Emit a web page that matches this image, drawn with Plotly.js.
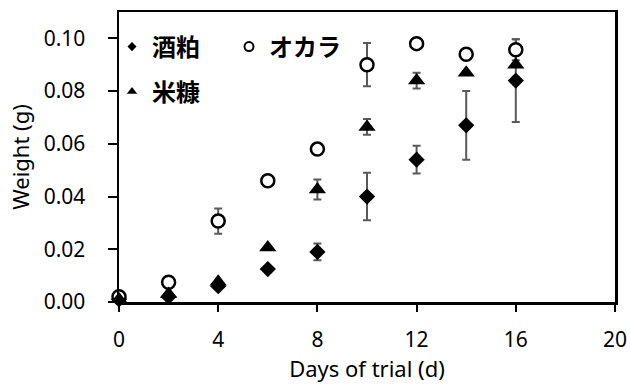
<!DOCTYPE html>
<html>
<head>
<meta charset="utf-8">
<script src="https://cdn.plot.ly/plotly-3.0.1.min.js"></script>
<style>html,body{margin:0;padding:0;background:#fff;}#chart{width:630px;height:385px;}</style>
</head>
<body>
<div id="chart"></div>
<script>
// Data
const days = [0, 2, 4, 6, 8, 10, 12, 14, 16];
const seriesNames = ["酒粕", "オカラ", "米糠"];
const sakeLees = [0.001, 0.002, 0.006, 0.0125, 0.019, 0.040, 0.054, 0.067, 0.084];
const sakeLeesErr = [0, 0, 0, 0, 0.0032, 0.009, 0.0053, 0.013, 0.0157];
const okara = [0.002, 0.0075, 0.0307, 0.046, 0.058, 0.090, 0.098, 0.094, 0.0957];
const okaraErr = [0, 0, 0.0048, 0, 0, 0.0082, 0, 0.001, 0.004];
const riceBran = [0.001, 0.003, 0.0077, 0.0207, 0.0427, 0.0664, 0.084, 0.087, 0.090];
const riceBranErr = [0, 0, 0, 0, 0.0038, 0.003, 0.003, 0, 0];
const xTicks = [0, 4, 8, 12, 16, 20];
const yTicks = [0, 0.02, 0.04, 0.06, 0.08, 0.10];

const errStyle = {type: 'data', visible: true, color: '#595959', thickness: 2, width: 4};
const latin = 'Noto Sans, sans-serif';
const cjk = 'Noto Sans CJK JP, sans-serif';

const symbols = ['diamond', 'circle', 'triangle-up'];
const fills = ['#000', '#fff', '#000'];
const sizes = [12.5, 13, 15];
const legendSizes = [7, 9, 9];
const ys = [sakeLees, okara, riceBran];
const errs = [sakeLeesErr, okaraErr, riceBranErr];
const legendIds = ['legend', 'legend2', 'legend3'];

const traces = [];
for (let i = 0; i < 3; i++) {
  traces.push({x: days, y: ys[i], name: seriesNames[i], type: 'scatter', mode: 'markers', cliponaxis: false,
    marker: {symbol: symbols[i], size: sizes[i], color: fills[i], line: {width: i === 1 ? 2.5 : 0, color: '#000'}},
    error_y: Object.assign({array: errs[i]}, errStyle), showlegend: false});
}
for (let i = 0; i < 3; i++) {
  traces.push({x: [null], y: [null], name: seriesNames[i], type: 'scatter', mode: 'markers',
    marker: {symbol: symbols[i], size: legendSizes[i], color: fills[i], line: {width: i === 1 ? 2 : 0, color: '#000'}},
    showlegend: true, legend: legendIds[i]});
}

const px = v => (v - 119) / 496;
const py = v => (302 - v) / 290;
const legendBase = {font: {family: cjk, size: 24, color: '#000', weight: 'bold'}, bgcolor: 'rgba(0,0,0,0)',
  borderwidth: 0, xref: 'paper', yref: 'paper', xanchor: 'left', yanchor: 'middle'};

const layout = {
  width: 630, height: 385,
  margin: {l: 119, r: 15, t: 12, b: 83},
  paper_bgcolor: '#fff', plot_bgcolor: '#fff',
  showlegend: true,
  legend: Object.assign({}, legendBase, {x: px(112), y: py(47)}),
  legend2: Object.assign({}, legendBase, {x: px(229), y: py(47)}),
  legend3: Object.assign({}, legendBase, {x: px(112), y: py(92)}),
  xaxis: {
    range: [0, 20], tickvals: xTicks, ticktext: xTicks.map(String),
    ticks: 'outside', ticklen: 7, tickwidth: 2, tickcolor: '#000',
    showline: true, linecolor: '#000', linewidth: 2.5, mirror: true,
    showgrid: false, zeroline: false, ticklabelstandoff: 10,
    tickfont: {family: latin, size: 21, color: '#000'},
    title: {text: 'Days of trial (d)', font: {family: latin, size: 22, color: '#000'}, standoff: 6}
  },
  yaxis: {
    range: [0, 0.11], tickvals: yTicks, ticktext: yTicks.map(v => v.toFixed(2)),
    ticks: 'outside', ticklen: 9, tickwidth: 2, tickcolor: '#000',
    showline: true, linecolor: '#000', linewidth: 2.5, mirror: true,
    showgrid: false, zeroline: false, ticklabelstandoff: 18,
    tickfont: {family: latin, size: 21, color: '#000'},
    title: {text: 'Weight (g)', font: {family: latin, size: 22, color: '#000'}, standoff: 8}
  }
};

Plotly.newPlot('chart', traces, layout, {displayModeBar: false, staticPlot: true});
</script>
</body>
</html>
